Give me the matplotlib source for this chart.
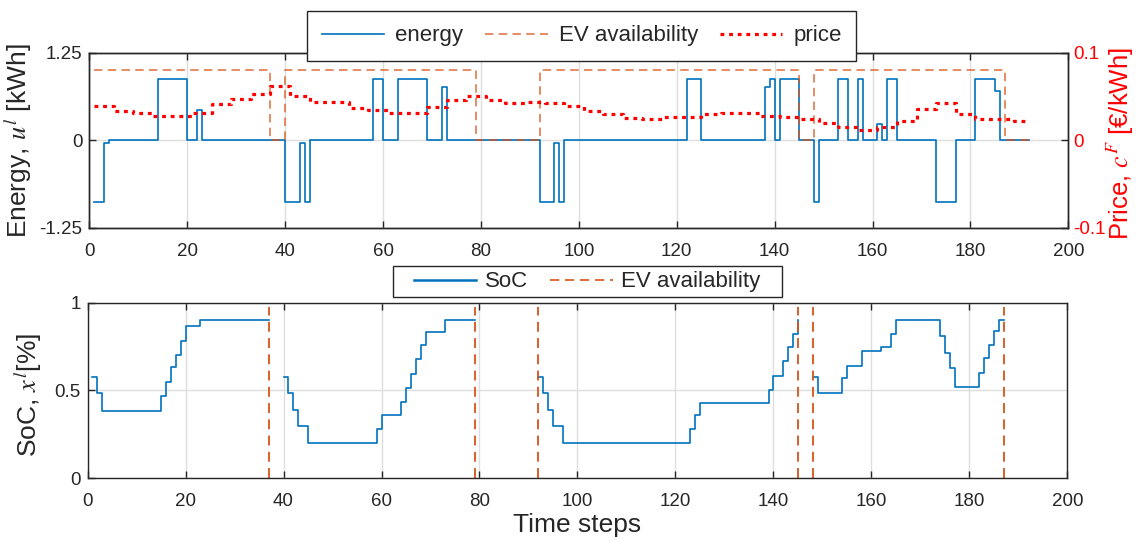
import numpy as np
import matplotlib
matplotlib.use("Agg")
import matplotlib.pyplot as plt
from matplotlib.lines import Line2D
from matplotlib.patches import Rectangle

plt.rcParams['font.family'] = ['Liberation Sans', 'DejaVu Sans']
plt.rcParams['mathtext.fontset'] = 'stix'

# Energy exchanged with the EV: value holds from each time step to the next one
energy_t = [1, 3, 4, 14, 20, 22, 23, 40, 43, 44, 45, 58, 60, 63, 69, 72, 73,
            92, 95, 96, 97, 122, 125, 138, 139, 140, 141, 145, 148, 149, 153,
            155, 157, 158, 161, 162, 163, 165, 173, 177, 181, 185, 186, 192]
energy_v = [-0.88, -0.03, 0, 0.88, 0, 0.44, 0, -0.88, -0.03, -0.88, 0, 0.88,
            0, 0.88, 0, 0.77, 0, -0.88, -0.03, -0.88, 0, 0.88, 0, 0.77, 0.88,
            0, 0.88, 0, -0.88, 0, 0.88, 0, 0.88, 0, 0.23, 0, 0.88, 0, -0.88,
            0, 0.88, 0.71, 0, 0]

# EV plugged in (1) or away (0)
avail_t = [1, 37, 40, 79, 92, 145, 148, 187, 192]
avail_v = [1, 0, 1, 0, 1, 0, 1, 0, 0]

# Hourly electricity price [EUR/kWh], one value per 4 time steps
price_hourly = [0.0394, 0.0341, 0.0318, 0.0284, 0.0284, 0.0318, 0.0414, 0.0471,
                0.0531, 0.0627, 0.0509, 0.0437, 0.0437, 0.0375, 0.0349, 0.0318,
                0.0318, 0.0387, 0.0463, 0.0509, 0.0463, 0.0425, 0.0444, 0.0425,
                0.0394, 0.0341, 0.0303, 0.0261, 0.0242, 0.0265, 0.0265, 0.0303,
                0.0318, 0.0318, 0.0280, 0.0265, 0.0242, 0.0196, 0.0158, 0.0120,
                0.0158, 0.0227, 0.0356, 0.0425, 0.0303, 0.0242, 0.0242, 0.0227]
price_end = 192

# State of charge during each parking session
soc_s1_t = [1, 2, 3, 15, 16, 17, 18, 19, 20, 23, 37]
soc_s1_v = [0.579, 0.487, 0.385, 0.469, 0.549, 0.632, 0.702, 0.784, 0.866, 0.901, 0.901]
soc_s2_t = [40, 41, 42, 43, 45, 59, 60, 64, 65, 66, 67, 68, 69, 73, 79]
soc_s2_v = [0.579, 0.487, 0.389, 0.300, 0.199, 0.279, 0.361, 0.436, 0.512,
            0.594, 0.678, 0.760, 0.833, 0.902, 0.902]
soc_s3_t = [92, 93, 94, 95, 97, 123, 124, 125, 139, 140, 142, 143, 144, 145]
soc_s3_v = [0.579, 0.487, 0.389, 0.300, 0.199, 0.279, 0.361, 0.430, 0.505,
            0.584, 0.668, 0.750, 0.822, 0.902]
soc_s4_t = [148, 149, 154, 155, 158, 162, 164, 165, 174, 175, 176, 177, 182,
            183, 184, 185, 186, 187]
soc_s4_v = [0.579, 0.487, 0.570, 0.640, 0.726, 0.747, 0.822, 0.902, 0.810,
            0.712, 0.626, 0.522, 0.601, 0.683, 0.759, 0.839, 0.902, 0.902]
soc_sessions = [(soc_s1_t, soc_s1_v), (soc_s2_t, soc_s2_v),
                (soc_s3_t, soc_s3_v), (soc_s4_t, soc_s4_v)]

# Departure / arrival instants marked on the SoC panel
soc_event_t = [37, 79, 92, 145, 148, 187]

BLUE = '#0072BD'
ORANGE = '#D95319'
RED = '#FF0000'
AXC = '#262626'
GRIDC = '#DEDEDE'

fig = plt.figure(figsize=(11.37, 5.41), dpi=100)
ax1 = fig.add_axes([0.0786, 0.5786, 0.861, 0.3235])
ax2 = fig.add_axes([0.0770, 0.1159, 0.8618, 0.3246])


def style_axes(ax):
    ax.set_xlim(0, 200)
    ax.set_xticks(np.arange(0, 201, 20))
    ax.grid(True, color=GRIDC, lw=1.0)
    ax.set_axisbelow(True)
    for sp in ax.spines.values():
        sp.set_color(AXC)
        sp.set_linewidth(1.0)
    ax.tick_params(direction='in', length=5, width=1.0, color=AXC,
                   labelcolor=AXC, labelsize=13.5, top=True)
    ax.tick_params(axis='x', pad=10.5)
    ax.tick_params(axis='y', pad=5)


# ---- top panel: energy, availability and price ----
style_axes(ax1)
ax1.plot(energy_t, energy_v, drawstyle='steps-post', color=BLUE, lw=1.2,
         label='energy')
ax1.plot(avail_t, avail_v, drawstyle='steps-post', color=ORANGE, lw=1.1,
         dashes=(5.5, 3.5), alpha=0.85, label='EV availability')
ax1.set_ylim(-1.25, 1.25)
ax1.set_yticks([-1.25, 0, 1.25])
ax1.set_yticklabels(['-1.25', '0', '1.25'])
ax1.set_ylabel('Energy, $u^l$ [kWh]', fontsize=19, color=AXC)
ax1.yaxis.set_label_coords(-0.057, 0.5)

ax1r = ax1.twinx()
price_t = list(np.arange(1, price_end, 4)) + [price_end]
price_y = price_hourly + [price_hourly[-1]]
ax1r.plot(price_t, price_y, drawstyle='steps-post', color=RED, lw=2.3,
          dashes=(1.2, 1.5), label='price')
ax1r.set_ylim(-0.1, 0.1)
ax1r.set_yticks([-0.1, 0, 0.1])
ax1r.set_yticklabels(['-0.1', '0', '0.1'])
for sp in ax1r.spines.values():
    sp.set_color(AXC)
    sp.set_linewidth(1.0)
ax1r.tick_params(direction='in', length=5, width=1.0, color=AXC,
                 labelcolor=RED, labelsize=13.5, pad=3.5)
ax1r.set_ylabel('Price, $c^F$ [€/kWh]', fontsize=18.5, color=RED)
ax1r.yaxis.set_label_coords(1.037, 0.48)

h1, l1 = ax1.get_legend_handles_labels()
h2, l2 = ax1r.get_legend_handles_labels()
leg1 = ax1r.legend(h1 + h2, l1 + l2, loc='lower center',
                   bbox_to_anchor=(0.503, 0.955), ncol=3, fontsize=16,
                   frameon=True, fancybox=False, edgecolor=AXC, framealpha=1,
                   handlelength=2.8, handletextpad=0.5, columnspacing=1.0,
                   borderpad=0.65, borderaxespad=0)
leg1.get_frame().set_linewidth(1.0)
for t in leg1.get_texts():
    t.set_color(AXC)

# ---- bottom panel: state of charge ----
style_axes(ax2)
for st, sv in soc_sessions:
    ax2.plot(st, sv, drawstyle='steps-post', color=BLUE, lw=1.2)
ax2.vlines(soc_event_t, 0, 0.977, colors=ORANGE, lw=1.3,
           linestyles=(0, (5.5, 3.5)))
ax2.set_ylim(0, 1)
ax2.set_yticks([0, 0.5, 1])
ax2.set_yticklabels(['0', '0.5', '1'])
ax2.set_ylabel('SoC, $x^l$[%]', fontsize=19, color=AXC)
ax2.yaxis.set_label_coords(-0.044, 0.474)
ax2.set_xlabel('Time steps', fontsize=19, color=AXC)
ax2.xaxis.set_label_coords(0.5, -0.195)

leg2_handles = [Line2D([], [], color=BLUE, lw=1.8),
                Line2D([], [], color=ORANGE, lw=1.2, dashes=(5.5, 3.5))]
leg2 = ax2.legend(leg2_handles, ['SoC', 'EV availability'], loc='center',
                  bbox_to_anchor=(0.51, 1.118), ncol=2, fontsize=16,
                  frameon=False, handlelength=2.8, handletextpad=0.4,
                  columnspacing=1.0, borderpad=0.0, borderaxespad=0)
for t in leg2.get_texts():
    t.set_color(AXC)

# box around the SoC legend, wider at the sides than at top and bottom
fig.canvas.draw()
bb = leg2.get_window_extent(fig.canvas.get_renderer())
pad_x, pad_y = 21, 5
(x0, y0), (x1, y1) = fig.transFigure.inverted().transform(
    [(bb.x0 - pad_x, bb.y0 - pad_y), (bb.x1 + pad_x, bb.y1 + pad_y)])
fig.add_artist(Rectangle((x0, y0), x1 - x0, y1 - y0, transform=fig.transFigure,
                         facecolor='white', edgecolor=AXC, lw=1.0, zorder=-1))

fig.savefig('out.png', dpi=100)
